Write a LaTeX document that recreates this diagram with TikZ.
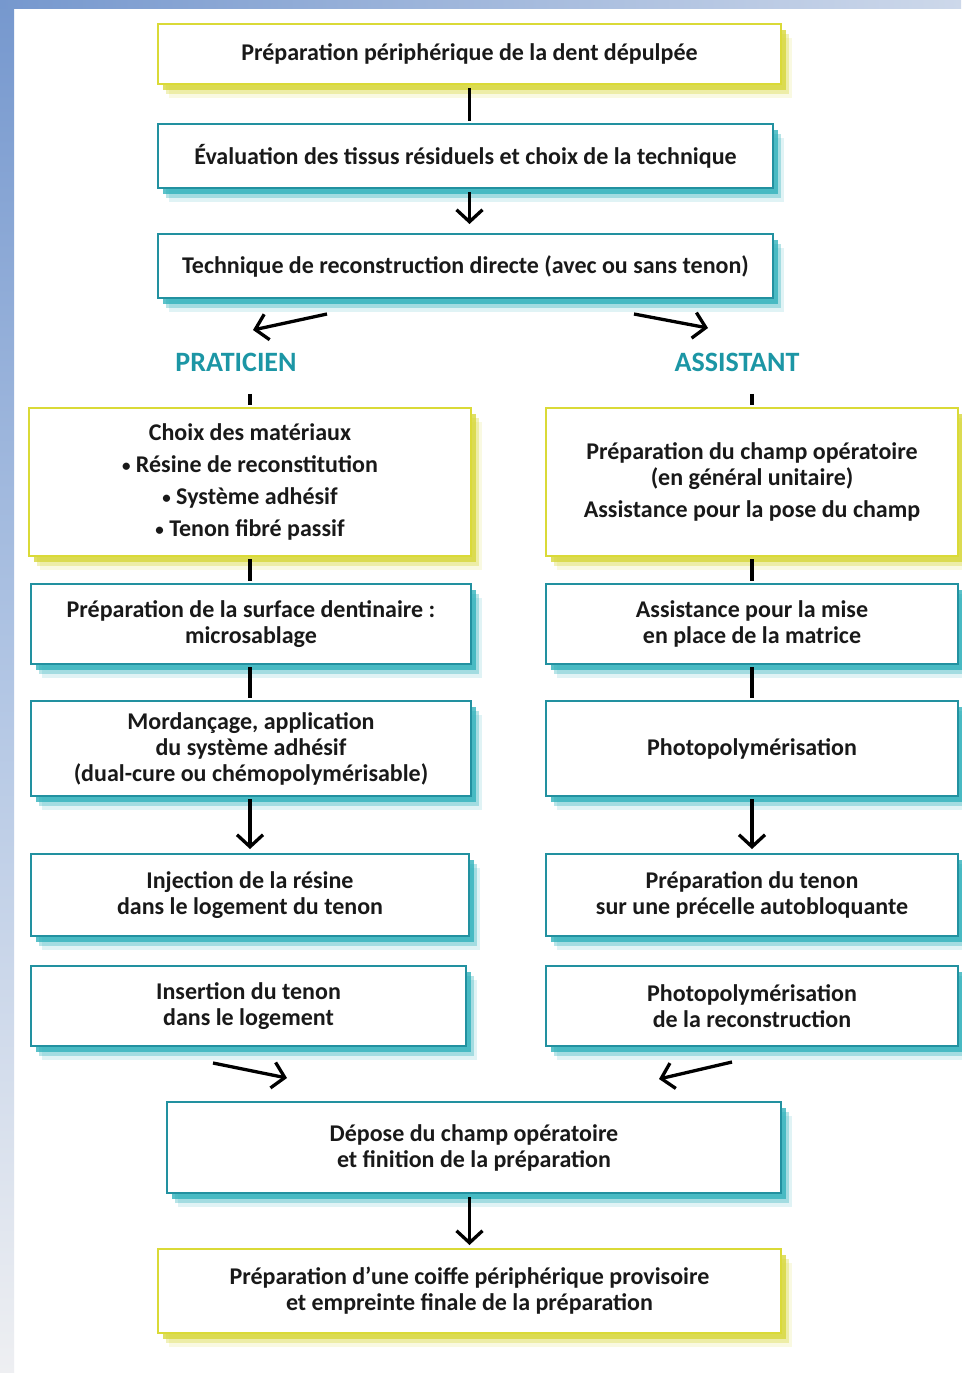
\documentclass[tikz,border=0pt]{standalone}
\usepackage{fontspec}
\setmainfont{Carlito}
\usetikzlibrary{arrows.meta,shadows,calc}
\definecolor{tealc}{RGB}{34,145,160}
\definecolor{tealsh}{RGB}{50,178,188}
\definecolor{yelc}{RGB}{218,218,55}
\definecolor{yelsh}{RGB}{215,215,60}
\definecolor{labc}{RGB}{28,150,165}
\definecolor{txt}{RGB}{25,25,25}
\definecolor{frameblue}{RGB}{118,152,206}
\definecolor{framelight}{RGB}{178,198,228}
\definecolor{framegray}{RGB}{238,239,242}
\definecolor{framepale}{RGB}{205,216,234}
\newcommand\bul{\raisebox{0.12ex}{\fontsize{17}{17}\selectfont•}}
\tikzset{
  glow/.style={
    drop shadow={shadow xshift=11pt, shadow yshift=-14pt, fill=#1, opacity=.15},
    drop shadow={shadow xshift=8pt, shadow yshift=-10pt, fill=#1, opacity=.35},
    drop shadow={shadow xshift=5pt, shadow yshift=-6pt, fill=#1, opacity=.8}},
  basebox/.style={rectangle, fill=white, line width=2pt, anchor=north west,
    align=center, text=txt, inner sep=0pt,
    font=\bfseries\fontsize{24}{26}\selectfont},
  tealbox/.style={basebox, draw=tealc, glow=tealsh},
  yelbox/.style={basebox, draw=yelc, glow=yelsh},
  lab/.style={text=labc, font=\bfseries\fontsize{28}{30}\selectfont},
  conn/.style={draw=black, line width=3.3pt},
  arr/.style={conn, -{Straight Barb[length=12pt,width=26pt]}},
}
\begin{document}
\begin{tikzpicture}[x=1pt,y=-1pt]
\useasboundingbox (0,0) rectangle (961,1373);
% frame
\fill[white] (0,0) rectangle (961,1373);
\shade[top color=frameblue, bottom color=framegray, middle color=framelight] (0,0) rectangle (14,1373);
\shade[left color=frameblue, right color=framepale] (0,0) rectangle (961,8);

% top chain
\node[yelbox, minimum width=623pt, minimum height=60pt] (top) at (157,23)
  {Préparation périphérique de la dent dépulpée};
\node[tealbox, minimum width=615pt, minimum height=64pt] (eval) at (157,123)
  {Évaluation des tissus résiduels et choix de la technique};
\node[tealbox, minimum width=615pt, minimum height=64pt] (tech) at (157,233)
  {Technique de reconstruction directe (avec ou sans tenon)};

\node[lab] (prat) at (236,362) {PRATICIEN};
\node[lab] (assi) at (737,362) {ASSISTANT};

% left column
\node[yelbox, minimum width=442pt, minimum height=148pt,
  font=\bfseries\fontsize{24}{32}\selectfont] (L1) at (28,407)
  {Choix des matériaux\\\bul{} Résine de reconstitution\\\bul{} Système adhésif\\\bul{} Tenon fibré passif};
\node[tealbox, minimum width=440pt, minimum height=80pt] (L2) at (30,583)
  {Préparation de la surface dentinaire :\\microsablage};
\node[tealbox, minimum width=440pt, minimum height=95pt] (L3) at (30,700)
  {Mordançage, application\\du système adhésif\\(dual-cure ou chémopolymérisable)};
\node[tealbox, minimum width=438pt, minimum height=82pt] (L4) at (30,853)
  {Injection de la résine\\dans le logement du tenon};
\node[tealbox, minimum width=435pt, minimum height=80pt] (L5) at (30,965)
  {Insertion du tenon\\dans le logement};

% right column
\node[yelbox, minimum width=412pt, minimum height=148pt] (R1) at (545,407)
  {Préparation du champ opératoire\\(en général unitaire)\\[6pt]Assistance pour la pose du champ};
\node[tealbox, minimum width=412pt, minimum height=80pt] (R2) at (545,583)
  {Assistance pour la mise\\en place de la matrice};
\node[tealbox, minimum width=412pt, minimum height=95pt] (R3) at (545,700)
  {Photopolymérisation};
\node[tealbox, minimum width=412pt, minimum height=82pt] (R4) at (545,853)
  {Préparation du tenon\\sur une précelle autobloquante};
\node[tealbox, minimum width=412pt, minimum height=80pt] (R5) at (545,965)
  {Photopolymérisation\\de la reconstruction};

% bottom
\node[tealbox, minimum width=614pt, minimum height=91pt] (B1) at (166,1101)
  {Dépose du champ opératoire\\et finition de la préparation};
\node[yelbox, minimum width=623pt, minimum height=84pt] (B2) at (157,1248)
  {Préparation d’une coiffe périphérique provisoire\\et empreinte finale de la préparation};

% free-end coordinates
\coordinate (a1s) at (327,314);
\coordinate (a1e) at (253,330);
\coordinate (a2s) at (634,314);
\coordinate (a2e) at (708,328);
\coordinate (b1s) at (213,1063);
\coordinate (b1e) at (287,1078);
\coordinate (b2s) at (732,1062);
\coordinate (b2e) at (659,1079);

% connectors
\draw[conn, shorten <=3pt, shorten >=2pt] (top.south) -- (top.south |- eval.north);
\draw[arr, shorten <=3pt, shorten >=9pt] (top.south |- eval.south) -- (top.south |- tech.north);
\draw[arr] (a1s) -- (a1e);
\draw[arr] (a2s) -- (a2e);
\draw[conn, shorten <=19pt, shorten >=2pt] (prat.south -| L1.north) -- (L1.north);
\draw[conn, shorten <=19pt, shorten >=2pt] (assi.south -| R1.north) -- (R1.north);
\draw[conn, shorten <=2pt, shorten >=2pt] (L1.south) -- (L1.south |- L2.north);
\draw[conn, shorten <=2pt, shorten >=2pt] (L1.south |- L2.south) -- (L1.south |- L3.north);
\draw[arr, shorten <=2pt, shorten >=4pt] (L1.south |- L3.south) -- (L1.south |- L4.north);
\draw[conn, shorten <=2pt, shorten >=2pt] (R1.south) -- (R1.south |- R2.north);
\draw[conn, shorten <=2pt, shorten >=2pt] (R1.south |- R2.south) -- (R1.south |- R3.north);
\draw[arr, shorten <=2pt, shorten >=4pt] (R1.south |- R3.south) -- (R1.south |- R4.north);
\draw[arr] (b1s) -- (b1e);
\draw[arr] (b2s) -- (b2e);
\draw[arr, shorten <=3pt, shorten >=3pt] (B1.south -| B2.north) -- (B2.north);
\end{tikzpicture}
\end{document}
